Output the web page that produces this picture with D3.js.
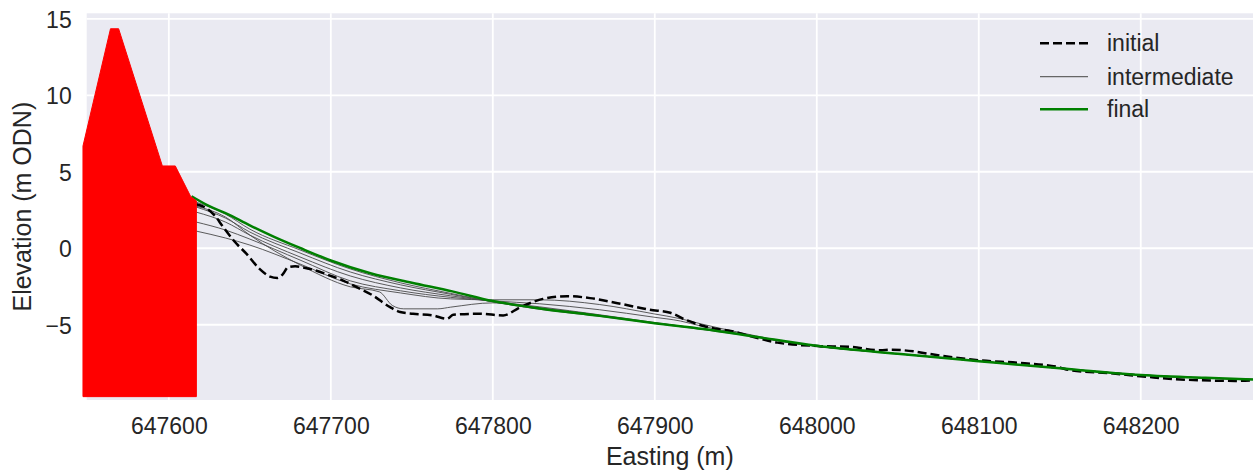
<!DOCTYPE html>
<html>
<head>
<meta charset="utf-8">
<script src="https://cdn.jsdelivr.net/npm/d3@7"></script>
<style>
  body { margin: 0; background: #ffffff; }
  svg { display: block; font-family: "Liberation Sans", Arial, sans-serif; }
</style>
</head>
<body>
<svg id="chart" width="1253" height="472"></svg>
<script>
// Axis ticks
const xTicks = [647600, 647700, 647800, 647900, 648000, 648100, 648200];
const yTicks = [-5, 0, 5, 10, 15];

// Fixed structure (sea wall / embankment) outline
const structureX = [647547, 647547, 647564, 647569, 647596, 647604, 647613.5, 647617, 647617];
const structureZ = [-9.7, 6.68, 14.35, 14.35, 5.38, 5.38, 3.38, 3.1, -9.7];

// Initial surveyed profile
const initialX = [647617, 647624, 647628.5, 647633, 647641, 647648, 647656, 647662.5, 647667, 647670.5,
  647673.6, 647678, 647682, 647689, 647699.6, 647707.6, 647716, 647726, 647736.6, 647742.8,
  647750.8, 647763, 647771.8, 647775.5, 647792, 647806.4, 647817, 647831, 647846, 647860,
  647877, 647897, 647909.6, 647920, 647932.4, 647948.5, 647961, 647975.7, 648000.4, 648020.8,
  648039.3, 648045.5, 648059.7, 648068.4, 648101, 648125.8, 648148.7, 648156.7, 648183.2, 648204.2,
  648224.6, 648259.8, 648269.7];
const initialZ = [2.88, 2.56, 2.12, 1.47, 0.39, -0.37, -1.35, -1.85, -1.94, -1.68,
  -1.24, -1.18, -1.24, -1.40, -1.79, -2.11, -2.54, -3.09, -3.85, -4.17,
  -4.28, -4.39, -4.61, -4.35, -4.28, -4.39, -3.85, -3.31, -3.13, -3.26,
  -3.59, -4.02, -4.22, -4.72, -5.15, -5.44, -5.80, -6.17, -6.39, -6.45,
  -6.67, -6.63, -6.74, -6.89, -7.33, -7.50, -7.76, -7.98, -8.19, -8.41,
  -8.58, -8.67, -8.63];

// Final modelled profile
const finalX = [647614, 647625, 647635, 647650, 647665, 647681, 647700, 647725, 647750, 647775,
  647800, 647830, 647866, 647900, 647930, 647960, 648000, 648050, 648100, 648150,
  648200, 648240, 648270];
const finalZ = [3.40, 2.75, 2.30, 1.50, 0.75, 0.02, -0.80, -1.65, -2.25, -2.82,
  -3.45, -3.95, -4.42, -4.90, -5.28, -5.75, -6.38, -6.90, -7.38, -7.85,
  -8.28, -8.47, -8.58];

// Intermediate profiles, each as [easting, elevation] pairs
const intermediate1 = [[647617, 2.75], [647635, 2.04], [647650, 0.86], [647681, -1.09], [647712, -2.52],
  [647730, -2.85], [647738, -3.74], [647745, -3.96], [647766, -3.96], [647774, -3.85], [647800, -3.57],
  [647829, -3.89], [647866, -4.38], [647899, -4.87], [647928, -5.26], [647953, -5.62], [647990, -6.27],
  [648050, -6.90], [648100, -7.38], [648150, -7.85], [648200, -8.28], [648270, -8.58]];
const intermediate2 = [[647617, 3.01], [647635, 2.23], [647650, 1.25], [647681, -0.11], [647712, -1.35],
  [647743, -2.26], [647774, -2.95], [647800, -3.50], [647829, -3.99], [647866, -4.45], [647899, -4.90],
  [647928, -5.29], [647953, -5.65], [647990, -6.27], [648050, -6.90], [648100, -7.38], [648150, -7.85],
  [648200, -8.28], [648270, -8.58]];
const intermediate3 = [[647617, 2.69], [647635, 1.97], [647650, 1.06], [647681, -0.31], [647712, -1.55],
  [647743, -2.39], [647774, -3.01], [647800, -3.50], [647829, -3.96], [647866, -4.41], [647899, -4.87],
  [647928, -5.26], [647953, -5.62], [647990, -6.27], [648050, -6.90], [648100, -7.38], [648150, -7.85],
  [648200, -8.28], [648270, -8.58]];
const intermediate4 = [[647617, 2.36], [647635, 1.71], [647650, 0.86], [647681, -0.57], [647712, -1.81],
  [647743, -2.59], [647774, -3.11], [647800, -3.47], [647829, -3.83], [647866, -4.35], [647899, -4.84],
  [647928, -5.26], [647953, -5.62], [647990, -6.27], [648050, -6.90], [648100, -7.38], [648150, -7.85],
  [648200, -8.28], [648270, -8.58]];
const intermediate5 = [[647617, 1.71], [647635, 1.19], [647650, 0.60], [647681, -0.77], [647712, -2.13],
  [647743, -2.78], [647774, -3.21], [647800, -3.44], [647829, -3.63], [647866, -4.02], [647899, -4.50],
  [647916, -4.76], [647928, -5.07], [647953, -5.59], [647990, -6.27], [648050, -6.90], [648100, -7.38],
  [648150, -7.85], [648200, -8.28], [648270, -8.58]];
const intermediate6 = [[647617, 1.12], [647635, 0.67], [647650, 0.21], [647681, -1.03], [647712, -2.33],
  [647743, -2.92], [647774, -3.31], [647800, -3.37], [647829, -3.37], [647866, -3.68], [647899, -4.28],
  [647916, -4.61], [647928, -4.93], [647953, -5.52], [647990, -6.27], [648050, -6.90], [648100, -7.38],
  [648150, -7.85], [648200, -8.28], [648270, -8.58]];

const legendLabels = ["initial", "intermediate", "final"];

const svg = d3.select("#chart");
const W = 1253, H = 472;
const margin = { left: 86.7, top: 13.3, right: 0, bottom: 72 };
const pw = W - margin.left - margin.right;
const ph = H - margin.top - margin.bottom;

const x = d3.scaleLinear().domain([647549.3, 648269.3]).range([margin.left, margin.left + pw]);
const y = d3.scaleLinear().domain([-9.92, 15.36]).range([margin.top + ph, margin.top]);

// Panel background
svg.append("rect")
  .attr("x", margin.left).attr("y", margin.top)
  .attr("width", pw).attr("height", ph)
  .attr("fill", "#EAEAF2");

svg.append("defs").append("clipPath").attr("id", "panel")
  .append("rect")
  .attr("x", margin.left).attr("y", margin.top)
  .attr("width", pw).attr("height", ph);

// Grid lines
const grid = svg.append("g");
grid.selectAll("line.gx").data(xTicks).join("line")
  .attr("x1", d => x(d)).attr("x2", d => x(d))
  .attr("y1", margin.top).attr("y2", margin.top + ph)
  .attr("stroke", "#ffffff").attr("stroke-width", 1.8);
grid.selectAll("line.gy").data(yTicks).join("line")
  .attr("y1", d => y(d)).attr("y2", d => y(d))
  .attr("x1", margin.left).attr("x2", margin.left + pw)
  .attr("stroke", "#ffffff").attr("stroke-width", 1.8);

// Axes (tick labels only, seaborn darkgrid style)
const fmtY = d => d < 0 ? "\u2212" + Math.abs(d) : String(d);
const xAxis = d3.axisBottom(x).tickValues(xTicks).tickFormat(d3.format("d")).tickSize(0).tickPadding(0);
const yAxis = d3.axisLeft(y).tickValues(yTicks).tickFormat(fmtY).tickSize(0).tickPadding(0);

const gx = svg.append("g").attr("transform", `translate(0,${margin.top + ph})`).call(xAxis);
gx.select(".domain").remove();
gx.selectAll("text")
  .attr("y", 0).attr("dy", 0)
  .attr("transform", "translate(0,34)")
  .attr("font-size", 23).attr("fill", "#262626")
  .attr("font-family", "'Liberation Sans', Arial, sans-serif");

const gy = svg.append("g").attr("transform", `translate(${margin.left},0)`).call(yAxis);
gy.select(".domain").remove();
gy.selectAll("text")
  .attr("x", -15).attr("dy", "0.36em")
  .attr("font-size", 23).attr("fill", "#262626")
  .attr("font-family", "'Liberation Sans', Arial, sans-serif");

// Axis titles
svg.append("text")
  .attr("x", margin.left + pw / 2).attr("y", 465)
  .attr("text-anchor", "middle")
  .attr("font-size", 25).attr("fill", "#262626")
  .text("Easting (m)");
svg.append("text")
  .attr("transform", `translate(31,${margin.top + ph / 2}) rotate(-90)`)
  .attr("text-anchor", "middle")
  .attr("font-size", 25).attr("fill", "#262626")
  .text("Elevation (m ODN)");

// Profiles
const plot = svg.append("g").attr("clip-path", "url(#panel)");
const smoothLine = d3.line().x(d => x(d[0])).y(d => y(d[1])).curve(d3.curveMonotoneX);
const straightLine = d3.line().x(d => x(d[0])).y(d => y(d[1]));

[intermediate1, intermediate2, intermediate3, intermediate4, intermediate5, intermediate6].forEach(p => {
  plot.append("path").datum(p)
    .attr("d", smoothLine)
    .attr("fill", "none")
    .attr("stroke", "#4a4a4a")
    .attr("stroke-width", 0.9);
});

const initial = initialX.map((v, i) => [v, initialZ[i]]);
plot.append("path").datum(initial)
  .attr("d", smoothLine)
  .attr("fill", "none")
  .attr("stroke", "#000000")
  .attr("stroke-width", 2.5)
  .attr("stroke-dasharray", "9,4");

const finalProfile = finalX.map((v, i) => [v, finalZ[i]]);
plot.append("path").datum(finalProfile)
  .attr("d", smoothLine)
  .attr("fill", "none")
  .attr("stroke", "#008000")
  .attr("stroke-width", 2.5);

// Structure (drawn unclipped)
const structure = structureX.map((v, i) => [v, structureZ[i]]);
svg.append("path").datum(structure)
  .attr("d", d => straightLine(d) + "Z")
  .attr("fill", "#FF0000")
  .attr("stroke", "#FF0000")
  .attr("stroke-width", 1)
  .attr("stroke-linejoin", "round");

// Legend
const legendStyles = [
  { stroke: "#000000", width: 2.5, dash: "9,4" },
  { stroke: "#666666", width: 1.2, dash: null },
  { stroke: "#008000", width: 2.5, dash: null }
];
const legendY = [43.3, 76.7, 109.3];
const legend = svg.append("g");
legendLabels.forEach((label, i) => {
  const s = legendStyles[i];
  legend.append("line")
    .attr("x1", 1040).attr("x2", 1088)
    .attr("y1", legendY[i]).attr("y2", legendY[i])
    .attr("stroke", s.stroke).attr("stroke-width", s.width)
    .attr("stroke-dasharray", s.dash);
  legend.append("text")
    .attr("x", 1107).attr("y", legendY[i]).attr("dy", "0.35em")
    .attr("font-size", 23).attr("fill", "#262626")
    .text(label);
});
</script>
</body>
</html>
